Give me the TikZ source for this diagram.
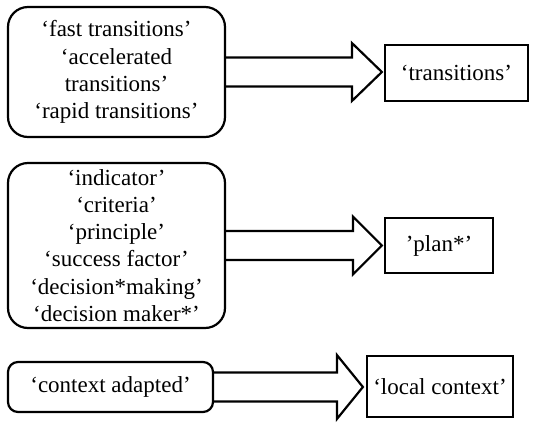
\documentclass[tikz,border=0pt]{standalone}
\usepackage{fontspec}
\setmainfont{Liberation Serif}
\usetikzlibrary{calc}
\begin{document}
\begin{tikzpicture}[x=1pt,y=-1pt,
  txt/.style={font=\fontsize{23}{27.2}\selectfont},
  srcbox/.style={draw, line width=2.2pt, rounded corners=20pt, align=center, inner sep=0pt, txt},
  dstbox/.style={draw, line width=2.2pt, align=center, inner sep=0pt, txt},
  fat/.style={draw, line width=2.2pt, line join=miter}]
\useasboundingbox (0,0) rectangle (550,424);
\node[srcbox, minimum width=217pt, minimum height=130pt] (s1) at (116.5,72)
  {‘fast transitions’\\‘accelerated\\transitions’\\‘rapid transitions’};
\node[srcbox, minimum width=217pt, minimum height=165pt] (s2) at (116.5,245.5)
  {‘indicator’\\‘criteria’\\‘principle’\\‘success factor’\\‘decision*making’\\‘decision maker*’};
\node[srcbox, rounded corners=10pt, minimum width=205pt, minimum height=50pt] (s3) at (110.5,387)
  {‘context adapted’};
\node[dstbox, minimum width=143pt, minimum height=56pt] (d1) at (456.5,73) {‘transitions’};
\node[dstbox, minimum width=108pt, minimum height=55pt] (d2) at (439,245.5) {’plan*’};
\node[dstbox, minimum width=146pt, minimum height=61pt] (d3) at (440,386.5) {‘local context’};
% arrows
\draw[fat] ($(s1.east)+(0,-14.5)$) -- ($(s1.east -| d1.west)+(-32,-14.5)$) -- ++(0,-14.5)
  -- ($(s1.east -| d1.west)+(-2,0)$) -- ($(s1.east -| d1.west)+(-32,29)$) -- ++(0,-14.5)
  -- ($(s1.east)+(0,14.5)$);
\draw[fat] ($(s2.east)+(0,-14.5)$) -- ($(s2.east -| d2.west)+(-31,-14.5)$) -- ++(0,-14.5)
  -- ($(s2.east -| d2.west)+(-2,0)$) -- ($(s2.east -| d2.west)+(-31,29)$) -- ++(0,-14.5)
  -- ($(s2.east)+(0,14.5)$);
\draw[fat] ($(s3.east)+(0,-14.5)$) -- ($(s3.east -| d3.west)+(-29,-14.5)$) -- ++(0,-17.5)
  -- ($(s3.east -| d3.west)+(-3,0)$) -- ($(s3.east -| d3.west)+(-29,32)$) -- ++(0,-17.5)
  -- ($(s3.east)+(0,14.5)$);
\end{tikzpicture}
\end{document}
